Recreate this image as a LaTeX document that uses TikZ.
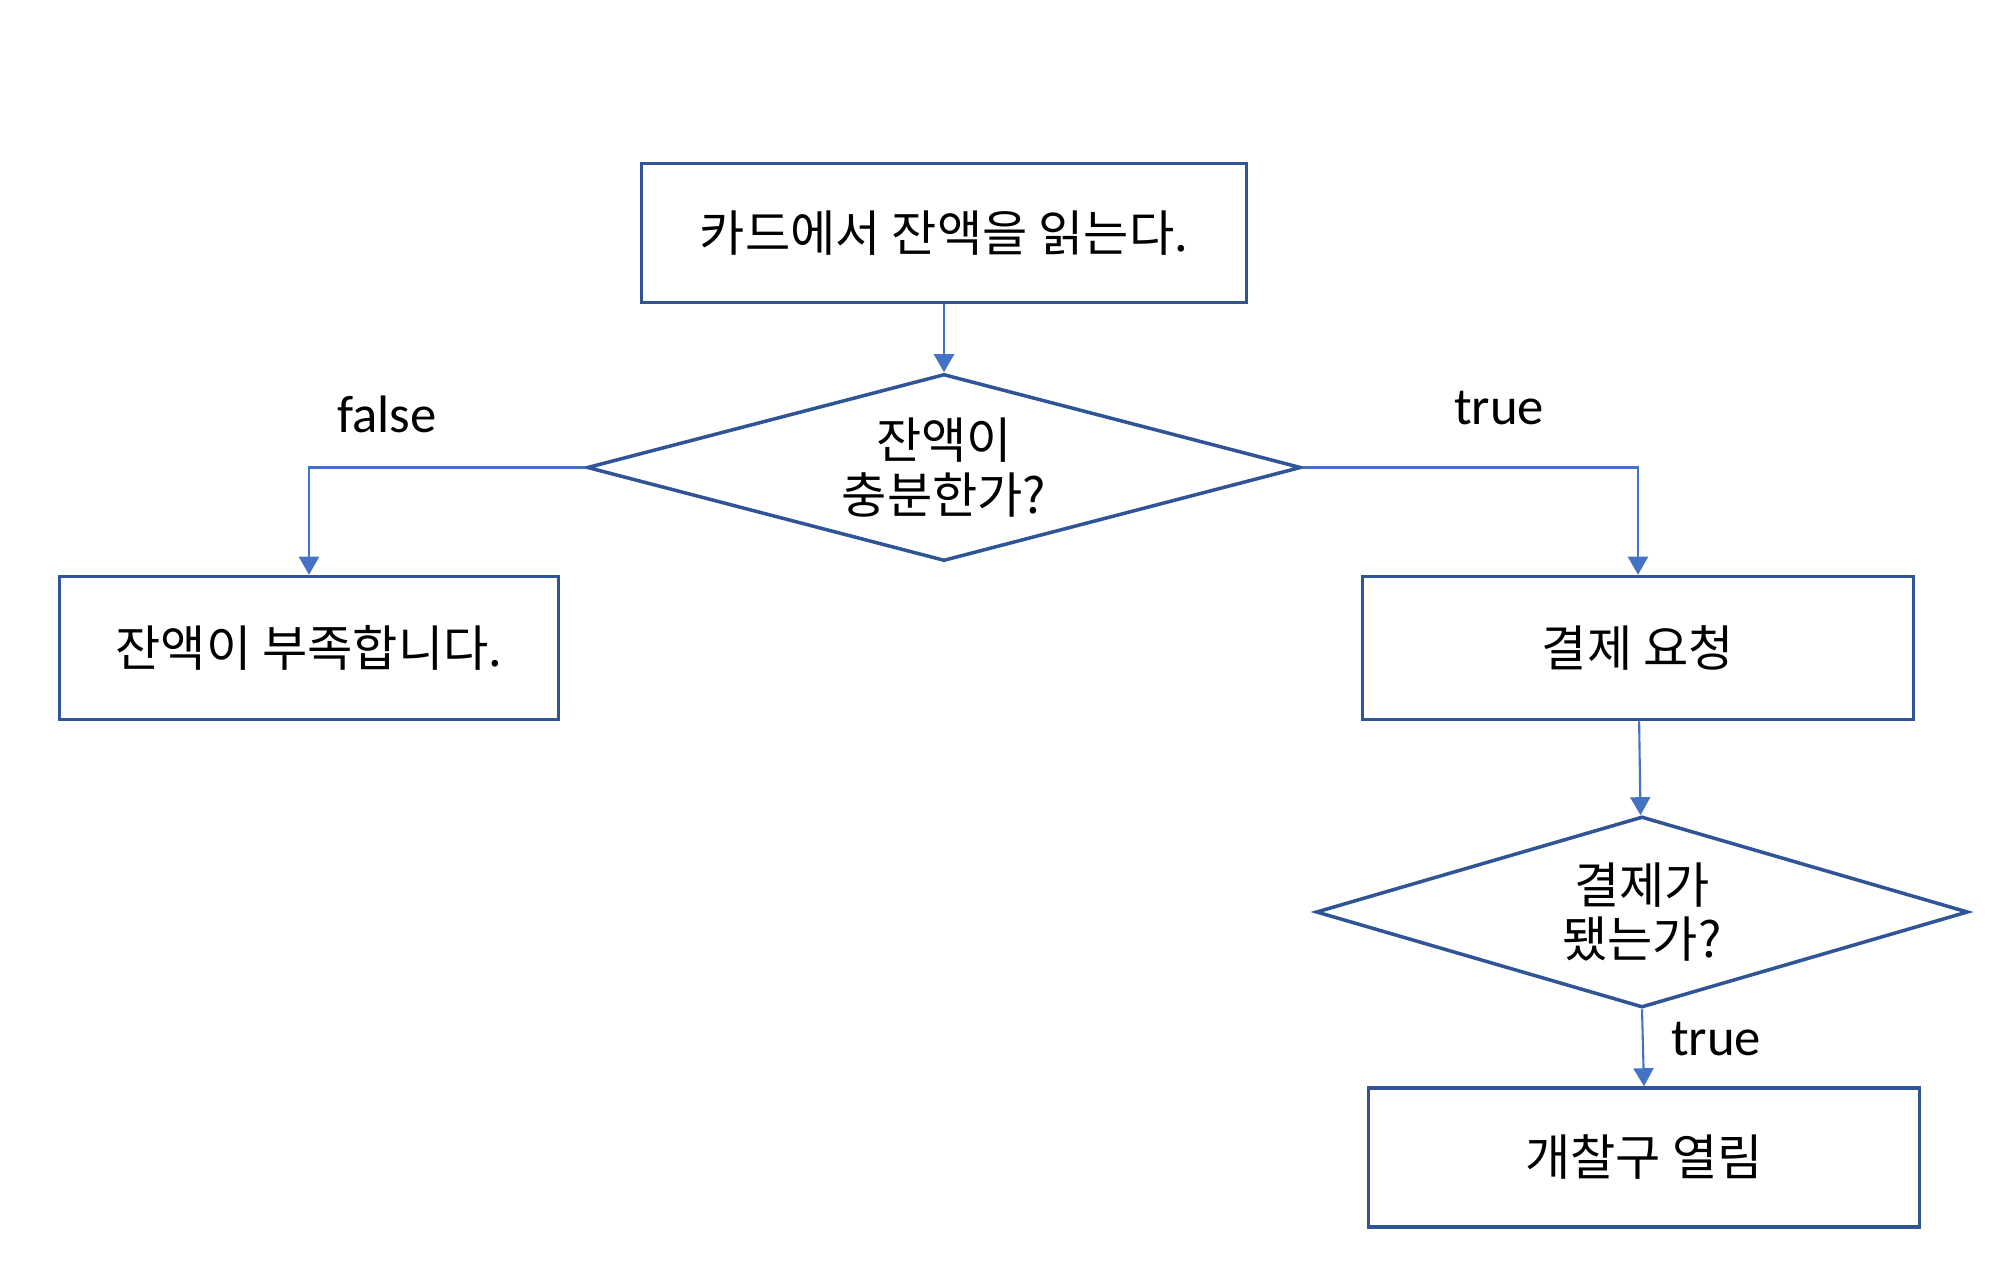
\documentclass[tikz,border=0pt]{standalone}
\usepackage{fontspec}
\setmainfont{Carlito}
\newfontfamily\krfont{Noto Sans CJK KR}
\usepackage{tikz}
\usetikzlibrary{shapes.geometric,positioning,arrows.meta}
\definecolor{boxline}{HTML}{2F5597}
\definecolor{flowline}{HTML}{4472C4}

\begin{document}
\begin{tikzpicture}[
  procbox/.style={draw=boxline, line width=1pt, rectangle, align=center,
    font=\krfont\fontsize{14}{17}\selectfont},
  decision/.style={draw=boxline, line width=1pt, diamond, inner sep=0pt, align=center,
    font=\krfont\fontsize{14}{15.5}\selectfont},
  flow/.style={draw=flowline, line width=0.6pt, -{Triangle[length=1.8mm, width=2mm]}},
  branchlbl/.style={font=\fontsize{15}{18}\selectfont}
]
  \useasboundingbox (0,0) rectangle (20,12.72);

  % read card
  \node[procbox, minimum width=6.05cm, minimum height=1.39cm] (read) at (9.44, 10.39) {카드에서 잔액을 읽는다.};
  \node[decision, aspect=3.8, minimum width=7.14cm, minimum height=1.87cm] (enough) at (9.44, 8.045) {잔액이\\충분한가?};

  % false branch
  \node[procbox, minimum width=4.99cm, minimum height=1.43cm] (short) at (3.09, 6.24) {잔액이 부족합니다.};
  \node[branchlbl] (lblfalse) at (3.87, 8.575) {false};

  % true branch
  \node[procbox, minimum width=5.51cm, minimum height=1.43cm] (pay) at (16.38, 6.24) {결제 요청};
  \node[branchlbl] (lbltrue) at (14.99, 8.64) {true};
  \node[decision, aspect=3.4, minimum width=6.52cm, minimum height=1.91cm] (paid) at (16.42, 3.60) {결제가\\됐는가?};
  \node[procbox, minimum width=5.51cm, minimum height=1.39cm] (gate) at (16.44, 1.145) {개찰구 열림};
  \node[branchlbl] (lbltrue2) at (17.16, 2.325) {true};

  % connectors
  \draw[flow] (read) -- (enough);
  \draw[flow] (enough.west) -| (short.north);
  \draw[flow] (enough.east) -| (pay.north);
  \draw[flow] (pay) -- (paid);
  \draw[flow] (paid.south) -- (gate.north);
\end{tikzpicture}
\end{document}
